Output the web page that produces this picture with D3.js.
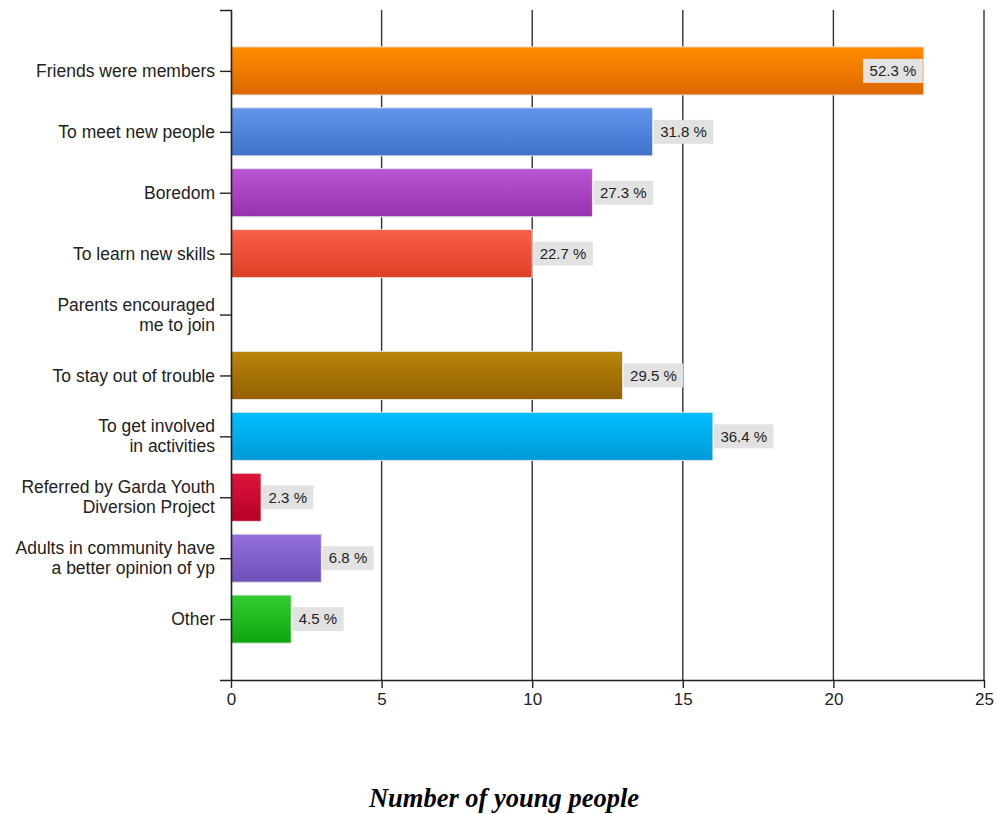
<!DOCTYPE html>
<html><head><meta charset="utf-8">
<script src="https://cdn.jsdelivr.net/npm/d3@7"></script>
<style>body{margin:0;background:#fff}svg{display:block}</style>
</head><body>
<svg id="c" width="998" height="814"></svg>
<script>
const categories = [
  "Friends were members",
  "To meet new people",
  "Boredom",
  "To learn new skills",
  "Parents encouraged|me to join",
  "To stay out of trouble",
  "To get involved|in activities",
  "Referred by Garda Youth|Diversion Project",
  "Adults in community have|a better opinion of yp",
  "Other"
];
const values = [23, 14, 12, 10, 0, 13, 16, 1, 3, 2];
const percentLabels = ["52.3 %", "31.8 %", "27.3 %", "22.7 %", "", "29.5 %", "36.4 %", "2.3 %", "6.8 %", "4.5 %"];
const colorsTop = ["#ff8c00", "#6495ed", "#ba55d3", "#fa5f48", "#b8860b", "#00bfff", "#dc143c", "#9370db", "#32cd32"];
const colorsBottom = ["#dd6800", "#3f72c8", "#9632b0", "#dc4024", "#946000", "#009ad8", "#b80026", "#7050b8", "#0ea50e"];
const barColorIndex = [0, 1, 2, 3, -1, 4, 5, 6, 7, 8];
const xTicks = [0, 5, 10, 15, 20, 25];
const xTitle = "Number of young people";

const svg = d3.select("#c");
const x = d3.scaleLinear().domain([0, 25]).range([231, 984]);
const y = d3.scalePoint().domain(categories).range([10, 680]).padding(1);
const bh = y.step() * 0.79;

const defs = svg.append("defs");
colorsTop.forEach((c, i) => {
  const g = defs.append("linearGradient").attr("id", "g" + i).attr("x1", 0).attr("y1", 0).attr("x2", 0).attr("y2", 1);
  g.append("stop").attr("offset", "0%").attr("stop-color", c);
  g.append("stop").attr("offset", "100%").attr("stop-color", colorsBottom[i]);
});

// gridlines
svg.append("g").selectAll("line").data(xTicks.slice(1)).join("line")
  .attr("x1", d => x(d)).attr("x2", d => x(d))
  .attr("y1", 10).attr("y2", 680)
  .attr("stroke", "#333").attr("stroke-width", 1.4);

// bars
const data = categories.map((c, i) => ({c, v: values[i], l: percentLabels[i], ci: barColorIndex[i]}));
svg.append("g").selectAll("rect").data(data.filter(d => d.v > 0)).join("rect")
  .attr("x", x(0)).attr("y", d => y(d.c) - bh / 2)
  .attr("width", d => x(d.v) - x(0)).attr("height", bh)
  .attr("fill", d => `url(#g${d.ci})`)
  .attr("stroke", "#e6e6e6").attr("stroke-width", 1);

// axes
const yAxis = svg.append("g").attr("transform", `translate(${x(0)},0)`)
  .call(d3.axisLeft(y).tickSize(11).tickSizeOuter(11).tickFormat(""));
yAxis.select(".domain").attr("stroke", "#222").attr("stroke-width", 1.6);
yAxis.selectAll(".tick line").attr("stroke", "#222").attr("stroke-width", 1.4);

const xAxis = svg.append("g").attr("transform", `translate(0,680)`)
  .call(d3.axisBottom(x).tickValues(xTicks).tickSize(8).tickSizeOuter(0).tickPadding(5));
xAxis.select(".domain").attr("stroke", "#222").attr("stroke-width", 1.6);
xAxis.selectAll(".tick line").attr("stroke", "#222").attr("stroke-width", 1.4);
xAxis.selectAll(".tick text").attr("font-family", "Liberation Sans, Arial, sans-serif")
  .attr("font-size", 17).attr("fill", "#222");

// category labels
const labG = svg.append("g").attr("font-family", "Liberation Sans, Arial, sans-serif")
  .attr("font-size", 17.5).attr("fill", "#222").attr("text-anchor", "end");
data.forEach(d => {
  const lines = d.c.split("|");
  const t = labG.append("text").attr("x", 215).attr("y", y(d.c));
  const lh = 20;
  lines.forEach((ln, k) => {
    t.append("tspan").attr("x", 215)
      .attr("y", y(d.c) + (k - (lines.length - 1) / 2) * lh)
      .attr("dy", "0.35em").text(ln);
  });
});

// value labels
const vg = svg.append("g").attr("font-family", "Liberation Sans, Arial, sans-serif").attr("font-size", 15);
data.filter(d => d.l).forEach(d => {
  const g = vg.append("g");
  const t = g.append("text").attr("fill", "#222").attr("dy", "0.35em").attr("y", y(d.c)).text(d.l);
  const w = t.node().getComputedTextLength() + 13;
  const bhh = 24;
  let bx = x(d.v) + 1;
  if (bx + w > x.range()[1] - 2) bx = x(d.v) - w - 1;
  g.insert("rect", "text").attr("x", bx).attr("y", y(d.c) - bhh / 2).attr("width", w).attr("height", bhh).attr("fill", "#e2e2e2");
  t.attr("x", bx + 6.5);
});

// title
svg.append("text").attr("x", 504).attr("y", 807).attr("text-anchor", "middle")
  .attr("font-family", "Liberation Serif, Times New Roman, serif").attr("font-weight", "bold")
  .attr("font-style", "italic").attr("font-size", 26.5).attr("fill", "#000").text(xTitle);
</script>
</body></html>
